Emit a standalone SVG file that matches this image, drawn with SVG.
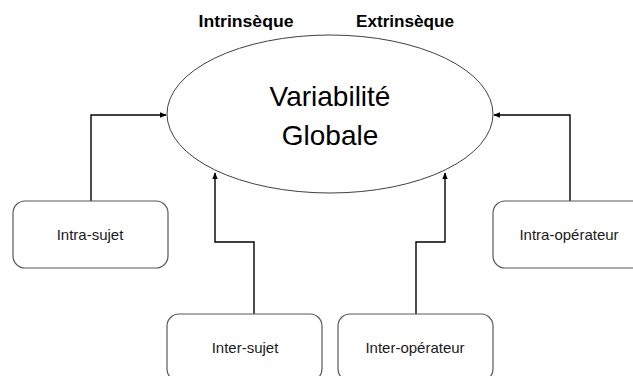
<svg xmlns="http://www.w3.org/2000/svg" width="633" height="376" viewBox="0 0 633 376">
<style>
.box{fill:#fff;stroke:#595959;stroke-width:1.2}
.lbl{font-family:"Liberation Sans",Arial,sans-serif;font-size:15px;fill:#1a1a1a;text-anchor:middle}
.hdr{font-family:"Liberation Sans",Arial,sans-serif;font-size:16px;font-weight:bold;fill:#000;text-anchor:middle}
.big{font-family:"Liberation Sans",Arial,sans-serif;font-size:28px;fill:#000;text-anchor:middle}
.conn{fill:none;stroke:#000;stroke-width:1.4}
</style>
<defs>
<marker id="arr" viewBox="0 0 10 10" refX="9" refY="5" markerWidth="5" markerHeight="5" orient="auto">
<path d="M0,1 L10,5 L0,9 z" fill="#000"/>
</marker>
</defs>
<rect width="633" height="376" fill="#fff"/>
<g id="headers">
<text class="hdr" x="246" y="27" textLength="95" lengthAdjust="spacingAndGlyphs">Intrinsèque</text>
<text class="hdr" x="405" y="27" textLength="98" lengthAdjust="spacingAndGlyphs">Extrinsèque</text>
</g>
<g id="connectors">
<path class="conn" d="M91,201 V115 H166" marker-end="url(#arr)"/>
<path class="conn" d="M254,314 V242 H215 V173" marker-end="url(#arr)"/>
<path class="conn" d="M416,314 V242 H445 V173" marker-end="url(#arr)"/>
<path class="conn" d="M570,201 V115 H494" marker-end="url(#arr)"/>
</g>
<g id="variabilite-globale">
<ellipse cx="330" cy="114" rx="163" ry="79" fill="#fff" stroke="#404040" stroke-width="1"/>
<text class="big" x="330" y="106">Variabilité</text>
<text class="big" x="330" y="145">Globale</text>
</g>
<g id="intra-sujet">
<rect class="box" x="13" y="201" width="155" height="67" rx="12"/>
<text class="lbl" x="90" y="240">Intra-sujet</text>
</g>
<g id="intra-operateur">
<rect class="box" x="493" y="201" width="155" height="67" rx="12"/>
<text class="lbl" x="569" y="240">Intra-opérateur</text>
</g>
<g id="inter-sujet">
<rect class="box" x="167" y="314" width="155" height="67" rx="12"/>
<text class="lbl" x="245" y="353">Inter-sujet</text>
</g>
<g id="inter-operateur">
<rect class="box" x="338" y="314" width="155" height="67" rx="12"/>
<text class="lbl" x="415" y="353">Inter-opérateur</text>
</g>
</svg>
